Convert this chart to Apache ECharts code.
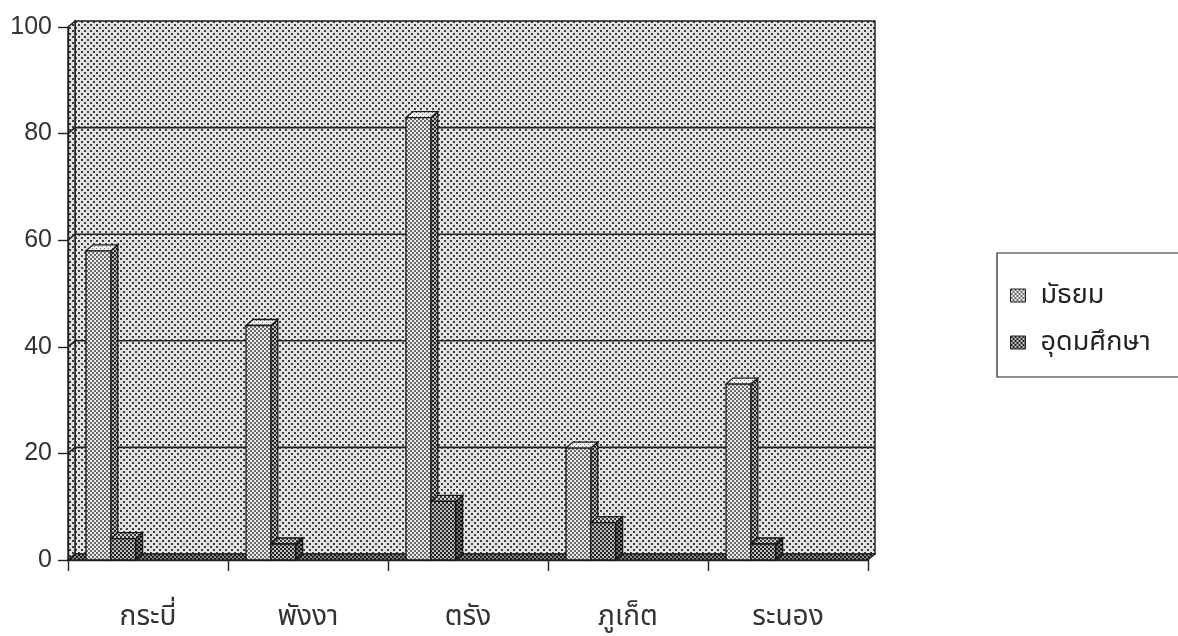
<!DOCTYPE html>
<html>
<head>
<meta charset="utf-8">
<script src="https://cdn.jsdelivr.net/npm/echarts@6/dist/echarts.min.js"></script>
<style>
  html, body { margin: 0; padding: 0; background: #ffffff; }
  #chart { width: 1178px; height: 636px; }
</style>
</head>
<body>
<div id="chart"></div>
<script>
// Provinces and the two education levels
const categories = ['กระบี่', 'พังงา', 'ตรัง', 'ภูเก็ต', 'ระนอง'];
const seriesNames = ['มัธยม', 'อุดมศึกษา'];
const secondaryValues = [58, 44, 83, 21, 33];
const higherValues = [4, 3, 11, 7, 3];
const yTicks = [0, 20, 40, 60, 80, 100];

// 3D depth of walls and columns (pixels)
const DX = 7, DY = 6;
const FONT = "'Liberation Sans', 'Noto Sans Thai', 'DejaVu Sans', Arial, sans-serif";

// Small repeating dot textures
function texture(size, bg, fg, dots) {
  const c = document.createElement('canvas');
  c.width = size; c.height = size;
  const g = c.getContext('2d');
  g.fillStyle = bg; g.fillRect(0, 0, size, size);
  g.fillStyle = fg;
  dots.forEach(d => g.fillRect(d[0], d[1], d[2], d[3]));
  return { image: c, repeat: 'repeat' };
}
const wallTex = texture(6, '#e2e2e2', '#3c3c3c', [[0, 0, 2, 2], [3, 3, 2, 2]]);
const floorTex = texture(4, '#8a8a8a', '#1a1a1a', [[0, 0, 2, 2], [2, 2, 2, 2]]);
const bar1Tex = {
  front: texture(4, '#ececec', '#6a6a6a', [[0, 0, 2, 2], [2, 2, 2, 2]]),
  side: texture(4, '#b8b8b8', '#262626', [[0, 0, 2, 2], [2, 2, 2, 2]]),
  top: texture(4, '#f0f0f0', '#777777', [[0, 0, 1, 1], [2, 2, 1, 1]])
};
const bar2Tex = {
  front: texture(4, '#bdbdbd', '#262626', [[0, 0, 2, 2], [2, 2, 2, 2]]),
  side: texture(4, '#7e7e7e', '#121212', [[0, 0, 2, 2], [2, 2, 2, 2]]),
  top: texture(4, '#d0d0d0', '#333333', [[0, 0, 2, 2], [2, 2, 2, 2]])
};

const EDGE = '#1a1a1a';

// Back wall, left wall, floor and gridlines, drawn from the grid rectangle
function renderWalls(params, api) {
  const cs = params.coordSys;
  const L = cs.x, R = cs.x + cs.width, T = cs.y, B = cs.y + cs.height;
  const children = [
    { type: 'rect', shape: { x: L + DX, y: T - DY, width: cs.width, height: cs.height },
      style: { fill: wallTex, stroke: EDGE, lineWidth: 1.4 } },
    { type: 'polygon', shape: { points: [[L, T], [L + DX, T - DY], [L + DX, B - DY], [L, B]] },
      style: { fill: wallTex, stroke: EDGE, lineWidth: 1.4 } },
    { type: 'polygon', shape: { points: [[L, B], [L + DX, B - DY], [R + DX, B - DY], [R, B]] },
      style: { fill: floorTex, stroke: EDGE, lineWidth: 1.2 } }
  ];
  yTicks.forEach(v => {
    if (v === 0 || v === yTicks[yTicks.length - 1]) return;
    const y = api.coord([0, v])[1];
    children.push({ type: 'polyline',
      shape: { points: [[L, y], [L + DX, y - DY], [R + DX, y - DY]] },
      style: { stroke: '#222', lineWidth: 1.6, fill: null } });
  });
  return { type: 'group', children };
}

// 3D column: front face, right side face and top face
function columnRenderer(slot, tex) {
  return function (params, api) {
    const i = api.value(0), v = api.value(1);
    const top = api.coord([i, v]);
    const base = api.coord([i, 0]);
    const band = api.size([1, 0])[0];
    const w = band * 0.155;
    const x0 = top[0] - band * 0.3875 + slot * w;
    const x1 = x0 + w;
    const y0 = top[1], yb = base[1];
    return { type: 'group', children: [
      { type: 'polygon', shape: { points: [[x1, y0], [x1 + DX, y0 - DY], [x1 + DX, yb - DY], [x1, yb]] },
        style: { fill: tex.side, stroke: EDGE, lineWidth: 1.3 } },
      { type: 'polygon', shape: { points: [[x0, y0], [x0 + DX, y0 - DY], [x1 + DX, y0 - DY], [x1, y0]] },
        style: { fill: tex.top, stroke: EDGE, lineWidth: 1.3 } },
      { type: 'rect', shape: { x: x0, y: y0, width: w, height: yb - y0 },
        style: { fill: tex.front, stroke: EDGE, lineWidth: 1.3 } }
    ] };
  };
}

const chart = echarts.init(document.getElementById('chart'), null, { renderer: 'canvas' });
chart.setOption({
  animation: false,
  backgroundColor: '#ffffff',
  textStyle: { fontFamily: FONT },
  grid: { left: 68, right: 310, top: 27, bottom: 76, containLabel: false },
  xAxis: {
    type: 'category',
    data: categories,
    axisLine: { show: true, lineStyle: { color: '#222', width: 1.4 } },
    axisTick: { show: true, length: 11, lineStyle: { color: '#222', width: 1.4 } },
    axisLabel: { fontSize: 28, color: '#333', margin: 43, fontFamily: FONT },
    splitLine: { show: false }
  },
  yAxis: {
    type: 'value',
    min: 0, max: 100, interval: 20,
    axisLine: { show: true, lineStyle: { color: '#222', width: 1.4 } },
    axisTick: { show: true, length: 10, lineStyle: { color: '#222', width: 1.4 } },
    axisLabel: { fontSize: 25, color: '#333', margin: 16, fontFamily: FONT },
    splitLine: { show: false }
  },
  legend: {
    orient: 'vertical',
    left: 997, top: 253,
    data: seriesNames,
    icon: 'rect',
    itemWidth: 15, itemHeight: 13, itemGap: 20,
    padding: [29, 80, 21, 13],
    borderColor: '#222', borderWidth: 1.2,
    backgroundColor: '#ffffff',
    itemStyle: { borderColor: '#222', borderWidth: 1 },
    textStyle: { fontSize: 27, color: '#222', fontFamily: FONT, padding: [0, 0, 0, 10] }
  },
  series: [
    {
      type: 'custom', name: 'walls', silent: true, z: 0,
      renderItem: renderWalls,
      data: [[0, 0]], clip: false
    },
    {
      type: 'custom', name: seriesNames[0], z: 2,
      renderItem: columnRenderer(0, bar1Tex),
      itemStyle: { color: bar1Tex.front },
      encode: { x: 0, y: 1 },
      data: secondaryValues.map((v, i) => [i, v])
    },
    {
      type: 'custom', name: seriesNames[1], z: 2,
      renderItem: columnRenderer(1, bar2Tex),
      itemStyle: { color: bar2Tex.front },
      encode: { x: 0, y: 1 },
      data: higherValues.map((v, i) => [i, v])
    }
  ]
});
</script>
</body>
</html>
